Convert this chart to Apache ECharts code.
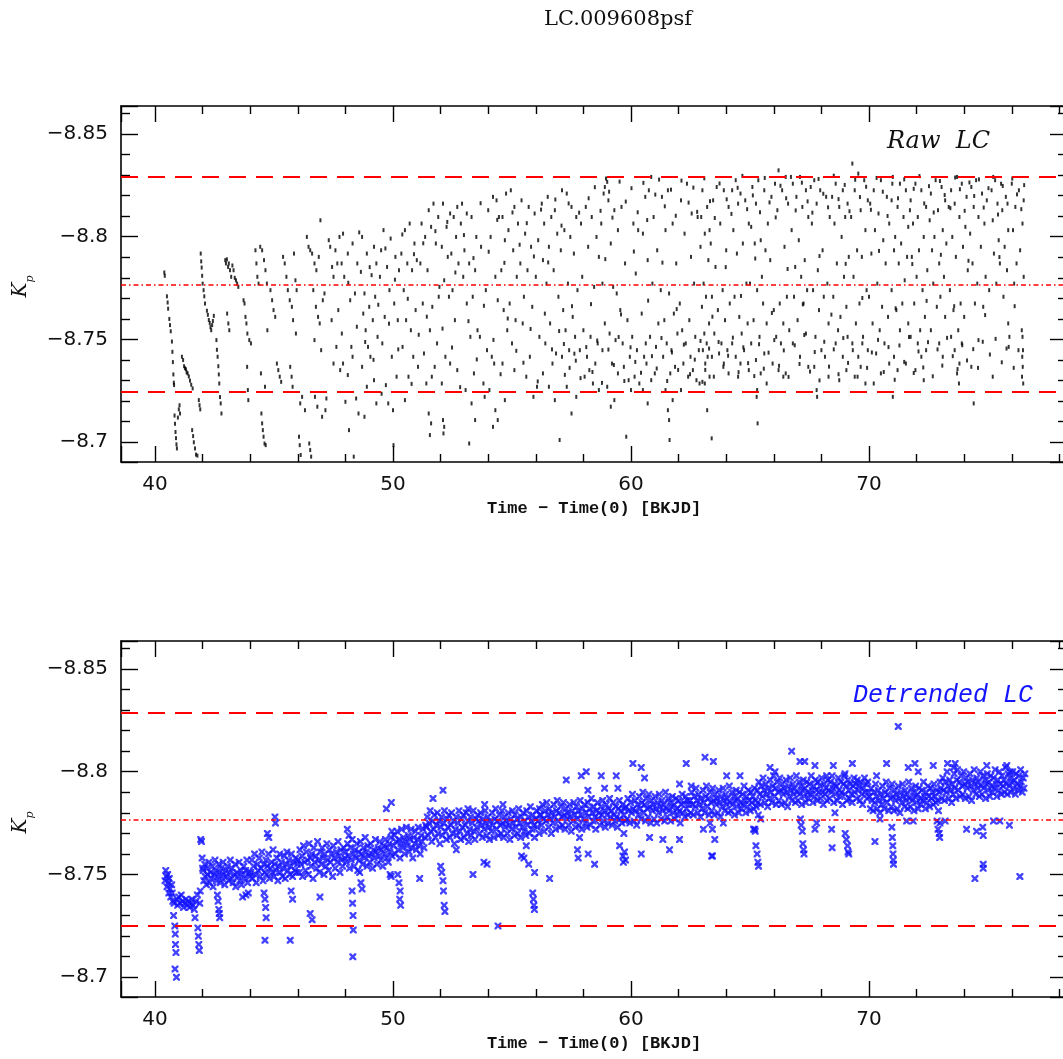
<!DOCTYPE html>
<html>
<head>
<meta charset="utf-8">
<title>LC.009608psf</title>
<script src="https://cdn.jsdelivr.net/npm/echarts@6/dist/echarts.min.js"></script>
<style>
  html, body { margin: 0; padding: 0; background: #ffffff; }
  #chart { width: 1063px; height: 1059px; }
</style>
</head>
<body>
<div id="chart"></div>
<script>
// ---- Light-curve samples: [time - time(0) (BKJD), Kp magnitude] ----

// Raw photometry, start of the run (steep pulsation streaks)
const rawStart = [
  [40.39,-8.7826],[40.41,-8.7810],[40.5,-8.771],[40.53,-8.768],[40.55,-8.765],[40.6,-8.760],[40.63,-8.757],[40.66,-8.754],
  [40.71,-8.749],[40.73,-8.744],[40.75,-8.739],[40.77,-8.733],[40.79,-8.729],[40.8,-8.7278],[40.82,-8.713],[40.84,-8.709],
  [40.86,-8.705],[40.88,-8.702],[40.9,-8.699],[40.92,-8.697],[40.96,-8.712],[41.0,-8.716],[41.03,-8.718],[41.05,-8.714],
  [41.13,-8.7416],[41.18,-8.740],[41.22,-8.737],[41.26,-8.736],[41.3,-8.7355],[41.33,-8.734],[41.37,-8.7335],[41.42,-8.732],
  [41.47,-8.730],[41.52,-8.728],[41.58,-8.7262],[41.56,-8.7059],[41.6,-8.703],[41.63,-8.700],[41.68,-8.697],[41.72,-8.694],
  [41.78,-8.6935],[41.84,-8.7205],[41.87,-8.718],[41.9,-8.716],[41.92,-8.7918],[41.94,-8.788],[41.96,-8.785],[41.98,-8.781],
  [42.0,-8.7772],[42.04,-8.774],[42.07,-8.771],[42.1,-8.7675],[42.18,-8.764],[42.22,-8.762],[42.26,-8.7595],[42.3,-8.758],
  [42.33,-8.756],[42.36,-8.7545],[42.4,-8.757],[42.43,-8.759],[42.47,-8.7615],[42.58,-8.7497],[42.6,-8.745],[42.63,-8.7416],
  [42.66,-8.737],[42.68,-8.733],[42.7,-8.7286],[42.73,-8.722],[42.76,-8.7189],[42.79,-8.714],[42.95,-8.7886],[42.98,-8.787],
  [43.02,-8.789],[43.07,-8.7853],[43.1,-8.787],[43.15,-8.7837],[43.2,-8.7805],[43.25,-8.786],[43.3,-8.7837],[43.35,-8.78],
  [43.4,-8.7788],[43.45,-8.7772],[43.5,-8.7756],[43.03,-8.7626],[43.08,-8.7578],[43.12,-8.7545],[43.72,-8.7691],[43.76,-8.7675],
  [43.8,-8.761],[43.84,-8.7578],[43.88,-8.7529],[43.96,-8.7497],[44.03,-8.7481],[43.87,-8.7367],[43.9,-8.7254],[43.92,-8.7205],
  [44.22,-8.7934],[44.26,-8.787],[44.3,-8.7805],[44.35,-8.7772],[44.42,-8.7951],[44.5,-8.7934],[44.58,-8.7886],[44.64,-8.7837],
  [44.7,-8.7772],[44.47,-8.714],[44.5,-8.7092],[44.53,-8.7059],[44.56,-8.7027],[44.6,-8.6994],[44.65,-8.6986],[44.45,-8.7335],
  [44.62,-8.727],[44.72,-8.7545],[44.85,-8.774],[44.92,-8.7691],[44.98,-8.7643],[45.05,-8.761],[45.12,-8.7383],[45.18,-8.7351],
  [45.24,-8.7319],[45.3,-8.7294],[45.38,-8.7902],[45.45,-8.787],[45.52,-8.7805],[45.58,-8.774],[45.66,-8.7691],[45.75,-8.7659],
  [45.84,-8.7918],[45.9,-8.7788],[45.95,-8.774],[45.8,-8.7594],[45.92,-8.7529],[45.68,-8.7367],[45.74,-8.7319],[45.78,-8.727],
  [46.05,-8.7027],[46.08,-8.6986],[46.12,-8.6938],[46.48,-8.6994],[46.52,-8.6962],[46.56,-8.693],[46.1,-8.7189],[46.18,-8.7221],
  [46.3,-8.7156],[46.38,-8.7999],[46.45,-8.7951],[46.52,-8.7934],[46.6,-8.7918],[46.7,-8.787],[46.78,-8.7837],[46.88,-8.7902],
  [46.95,-8.808],[46.65,-8.774],[46.76,-8.7659],[46.85,-8.761],[46.92,-8.7578],[47.05,-8.7691],[47.12,-8.7724],[46.7,-8.7497],
  [46.98,-8.7448],[46.72,-8.7221],[46.82,-8.7173],[47.02,-8.7124],[47.16,-8.7156],[47.2,-8.7213],[47.3,-8.7983],[47.36,-8.7951],
  [47.44,-8.7853],[47.5,-8.7805],[47.58,-8.7934],[47.66,-8.787],[47.75,-8.7999],[47.84,-8.787],[47.5,-8.7383],[47.62,-8.7464],
  [47.78,-8.7351],[47.42,-8.7594],[47.7,-8.7643]
];

// Raw photometry, days 47.8 - 55.3
const rawEarly = [
  [47.9,-8.8015],[48.3,-8.7967],[48.1,-8.7918],[48.5,-8.787],[47.95,-8.7805],[48.4,-8.7724],[48.2,-8.7691],[47.85,-8.7529],
  [48.25,-8.7464],[48.3,-8.7416],[47.9,-8.7383],[48.1,-8.7327],[48.45,-8.7213],[48.0,-8.7197],[48.55,-8.714],[48.15,-8.7059],
  [48.35,-8.693],[48.7,-8.7999],[49.2,-8.7951],[48.9,-8.7918],[49.3,-8.787],[48.65,-8.7829],[49.1,-8.7813],[48.8,-8.7724],
  [49.25,-8.7708],[49.0,-8.7659],[48.75,-8.7626],[49.15,-8.7594],[48.85,-8.7545],[49.35,-8.7513],[48.95,-8.7464],[49.05,-8.7416],
  [48.7,-8.7367],[49.2,-8.7302],[48.9,-8.727],[49.3,-8.7189],[48.8,-8.7124],[49.6,-8.8032],[49.9,-8.7991],[49.5,-8.7934],
  [50.1,-8.7902],[49.75,-8.7853],[50.25,-8.7837],[49.45,-8.7805],[49.85,-8.774],[50.05,-8.7675],[49.65,-8.761],[50.2,-8.7594],
  [49.55,-8.7481],[49.95,-8.7416],[50.15,-8.7319],[49.7,-8.7278],[49.8,-8.7189],[50.0,-8.7156],[50.02,-8.6986],[50.7,-8.8064],
  [50.5,-8.8032],[50.9,-8.7967],[50.35,-8.7918],[51.0,-8.7886],[50.6,-8.787],[50.8,-8.7837],[50.45,-8.774],[50.95,-8.7643],
  [50.55,-8.7594],[50.75,-8.7545],[50.4,-8.7464],[50.85,-8.7416],[51.05,-8.7367],[50.65,-8.7319],[50.5,-8.7205],[51.7,-8.8161],
  [51.5,-8.8129],[51.9,-8.8096],[51.2,-8.8064],[51.6,-8.8048],[51.35,-8.7999],[51.8,-8.7967],[51.15,-8.787],[51.45,-8.7837],
  [51.95,-8.7756],[51.25,-8.7675],[51.65,-8.7659],[51.55,-8.7545],[51.85,-8.7481],[51.3,-8.7432],[51.75,-8.7367],[51.4,-8.7286],
  [51.5,-8.714],[51.6,-8.7092],[51.55,-8.7035],[52.1,-8.8161],[52.7,-8.8145],[52.4,-8.8113],[52.55,-8.8096],[52.25,-8.8048],
  [52.65,-8.7999],[52.05,-8.7951],[52.45,-8.7918],[52.3,-8.7902],[52.75,-8.787],[52.15,-8.7788],[52.5,-8.774],[52.35,-8.7708],
  [52.6,-8.7594],[52.2,-8.7416],[52.4,-8.7383],[52.7,-8.7351],[52.05,-8.7286],[52.1,-8.7108],[52.15,-8.7075],[52.12,-8.7043],
  [52.9,-8.8161],[53.1,-8.8113],[53.3,-8.8096],[52.85,-8.8064],[53.5,-8.7999],[53.0,-8.7934],[53.2,-8.787],[53.45,-8.7837],
  [52.95,-8.7805],[53.35,-8.7708],[53.1,-8.7675],[53.55,-8.7545],[53.25,-8.7513],[53.4,-8.7335],[53.05,-8.7254],[53.3,-8.7189],
  [53.45,-8.7108],[53.2,-8.6994],[54.2,-8.8194],[54.35,-8.8177],[54.0,-8.8129],[54.45,-8.8096],[54.1,-8.7999],[53.7,-8.7951],
  [54.3,-8.7805],[53.9,-8.774],[54.4,-8.7691],[53.65,-8.7513],[53.95,-8.7448],[54.15,-8.7416],[54.25,-8.7383],[53.8,-8.7286],
  [54.05,-8.7254],[53.85,-8.7221],[54.3,-8.7156],[54.4,-8.7108],[54.2,-8.7075],[54.95,-8.8226],[54.75,-8.821],[55.1,-8.8145],
  [54.6,-8.8096],[55.25,-8.8064],[54.85,-8.8032],[54.7,-8.7983],[55.05,-8.7934],[54.55,-8.7837],[55.2,-8.7805],[54.9,-8.7675],
  [54.65,-8.7643],[55.15,-8.7594],[54.8,-8.7545],[55.0,-8.7481],[54.6,-8.7383],[55.1,-8.7351],[54.7,-8.7205]
];

// Raw photometry, days 55.3 - 62.9
const rawMiddle = [
  [55.4,-8.8177],[55.7,-8.8145],[55.95,-8.8113],[55.55,-8.8015],[56.1,-8.7983],[55.8,-8.7951],[55.35,-8.787],[55.65,-8.7837],
  [56.0,-8.7805],[55.5,-8.7708],[55.85,-8.7659],[55.45,-8.7578],[56.15,-8.7513],[55.75,-8.7416],[55.6,-8.7319],[56.05,-8.727],
  [55.9,-8.7221],[56.5,-8.8194],[56.25,-8.8161],[56.8,-8.8129],[56.65,-8.8096],[56.35,-8.8064],[56.9,-8.8015],[56.55,-8.7951],
  [56.3,-8.7886],[56.75,-8.7837],[56.45,-8.7772],[56.95,-8.7708],[56.6,-8.7578],[56.4,-8.7481],[56.85,-8.7432],[56.7,-8.7383],
  [56.3,-8.7335],[56.55,-8.727],[56.8,-8.7205],[57.1,-8.8226],[57.3,-8.821],[57.5,-8.8145],[57.7,-8.8096],[57.2,-8.8032],
  [57.45,-8.7999],[57.05,-8.7934],[57.6,-8.7918],[57.35,-8.7772],[57.75,-8.774],[57.15,-8.7643],[57.55,-8.761],[57.25,-8.7545],
  [57.65,-8.7513],[57.4,-8.7448],[57.1,-8.7416],[57.3,-8.727],[57.7,-8.7221],[57.5,-8.714],[57.0,-8.7011],[58.1,-8.8145],
  [58.35,-8.8096],[57.9,-8.8064],[58.55,-8.7999],[58.2,-8.7951],[58.65,-8.7902],[57.95,-8.7805],[58.45,-8.7756],[58.0,-8.7545],
  [58.3,-8.7513],[58.6,-8.7481],[57.85,-8.7448],[58.15,-8.7416],[58.5,-8.7383],[58.25,-8.7351],[58.05,-8.7319],[58.4,-8.7286],
  [58.65,-8.7254],[58.95,-8.8283],[59.0,-8.8267],[58.9,-8.8242],[58.85,-8.821],[59.05,-8.8177],[59.3,-8.8129],[58.75,-8.8064],
  [59.45,-8.8032],[59.15,-8.7967],[58.8,-8.7772],[59.25,-8.7756],[59.4,-8.7724],[58.9,-8.7578],[59.1,-8.7529],[59.35,-8.7497],
  [58.8,-8.7448],[59.2,-8.7383],[59.45,-8.7335],[59.0,-8.727],[59.3,-8.7205],[59.15,-8.7173],[59.6,-8.8145],[60.1,-8.8064],
  [60.3,-8.8032],[59.75,-8.787],[60.2,-8.7821],[59.55,-8.7643],[59.85,-8.7594],[60.05,-8.7513],[59.65,-8.7481],[60.25,-8.7448],
  [59.95,-8.7416],[59.7,-8.7367],[60.15,-8.7319],[59.9,-8.7302],[60.35,-8.7286],[60.0,-8.7254],[59.8,-8.7027],[60.85,-8.8291],
  [60.75,-8.8226],[60.6,-8.8194],[60.95,-8.8096],[60.5,-8.8015],[61.1,-8.7934],[60.7,-8.7886],[60.9,-8.7772],[60.45,-8.7626],
  [61.15,-8.7578],[60.8,-8.7513],[61.05,-8.7464],[60.55,-8.7416],[60.65,-8.7383],[61.0,-8.7335],[60.85,-8.7302],[60.5,-8.7254],
  [60.7,-8.7189],[61.55,-8.8226],[61.3,-8.8194],[61.75,-8.8064],[61.45,-8.8032],[61.9,-8.787],[61.25,-8.774],[61.6,-8.7724],
  [61.8,-8.7626],[61.4,-8.7594],[61.95,-8.7529],[61.5,-8.7481],[61.7,-8.7448],[61.35,-8.7416],[61.85,-8.7367],[61.65,-8.7335],
  [61.45,-8.7254],[61.75,-8.7205],[61.55,-8.7156],[61.6,-8.7108],[61.62,-8.7011],[62.35,-8.8258],[62.1,-8.8177],[62.55,-8.8113],
  [62.8,-8.8096],[62.25,-8.8015],[62.65,-8.7772],[62.05,-8.7675],[62.45,-8.7594],[62.15,-8.7545],[62.7,-8.7513],[62.3,-8.7481],
  [62.85,-8.7448],[62.5,-8.7416],[62.2,-8.7383],[62.6,-8.7351],[62.4,-8.7319],[62.75,-8.7302],[62.88,-8.7286],[62.1,-8.7254]
];

// Raw photometry, days 62.9 - 69.2
const rawLate = [
  [63.0,-8.8226],[63.2,-8.8145],[62.95,-8.8096],[63.3,-8.8032],[63.1,-8.8015],[62.92,-8.7951],[63.25,-8.7886],[63.05,-8.7772],
  [63.15,-8.7708],[62.98,-8.7659],[63.28,-8.7578],[63.08,-8.7529],[63.18,-8.7481],[63.02,-8.7448],[63.22,-8.7416],[63.12,-8.7383],
  [63.3,-8.7319],[63.0,-8.7294],[63.1,-8.7286],[63.2,-8.7156],[63.39,-8.7019],[63.6,-8.8242],[63.9,-8.8226],[63.45,-8.8177],
  [64.1,-8.8145],[63.75,-8.8064],[63.35,-8.7967],[64.0,-8.7934],[63.55,-8.7853],[63.85,-8.774],[63.4,-8.7708],[64.15,-8.7675],
  [63.65,-8.7643],[63.95,-8.7594],[63.5,-8.7529],[63.8,-8.7481],[64.05,-8.7448],[63.7,-8.7432],[63.4,-8.7416],[63.9,-8.7383],
  [64.1,-8.7335],[64.4,-8.8275],[64.25,-8.8226],[64.6,-8.821],[64.8,-8.8177],[64.5,-8.8161],[64.95,-8.8064],[64.3,-8.8032],
  [64.7,-8.7967],[64.45,-8.7918],[64.85,-8.7772],[64.35,-8.7708],[64.55,-8.761],[64.9,-8.7578],[64.65,-8.7529],[64.25,-8.7481],
  [64.75,-8.7448],[64.4,-8.7416],[64.6,-8.7383],[64.95,-8.7351],[64.5,-8.7319],[65.35,-8.8275],[65.1,-8.8242],[65.6,-8.8226],
  [65.25,-8.8161],[65.75,-8.8064],[65.05,-8.8048],[65.45,-8.7983],[65.2,-8.7967],[65.65,-8.7934],[65.5,-8.7805],[65.0,-8.7772],
  [65.3,-8.774],[65.55,-8.7675],[65.15,-8.7594],[65.7,-8.7578],[65.4,-8.7513],[65.05,-8.7481],[65.6,-8.7432],[65.25,-8.74],
  [65.45,-8.7335],[65.7,-8.7286],[65.3,-8.7254],[65.28,-8.7221],[65.32,-8.7092],[66.2,-8.8323],[66.5,-8.8291],[66.05,-8.8258],
  [66.35,-8.8226],[65.9,-8.8194],[66.6,-8.8161],[66.15,-8.8129],[66.45,-8.7951],[65.85,-8.7886],[66.55,-8.7708],[66.25,-8.7675],
  [66.0,-8.7643],[66.4,-8.7578],[66.65,-8.7545],[66.1,-8.7513],[66.3,-8.7481],[65.95,-8.7383],[66.2,-8.7351],[66.5,-8.7335],
  [66.4,-8.7319],[67.1,-8.8291],[66.8,-8.8258],[67.35,-8.8226],[66.95,-8.8194],[67.2,-8.8145],[67.45,-8.8096],[66.75,-8.8032],
  [67.05,-8.7983],[67.3,-8.7886],[66.9,-8.7853],[67.15,-8.7805],[67.4,-8.774],[66.85,-8.7708],[67.25,-8.7675],[67.0,-8.7594],
  [67.35,-8.7529],[66.8,-8.7481],[67.1,-8.7416],[67.45,-8.7367],[67.7,-8.8275],[67.55,-8.8242],[67.95,-8.8226],[68.2,-8.8194],
  [67.8,-8.8161],[68.35,-8.8096],[67.6,-8.8064],[68.05,-8.7934],[67.85,-8.7837],[68.25,-8.7772],[67.65,-8.774],[68.1,-8.7708],
  [67.9,-8.7643],[68.3,-8.7578],[67.75,-8.7513],[68.0,-8.7448],[68.15,-8.7416],[67.7,-8.7367],[68.3,-8.7319],[67.8,-8.7254],
  [67.82,-8.7221],[68.6,-8.8258],[68.9,-8.8226],[68.45,-8.8194],[69.1,-8.8161],[68.75,-8.8145],[69.0,-8.8096],[68.55,-8.8064],
  [68.85,-8.7999],[69.15,-8.7902],[68.65,-8.787],[68.95,-8.7805],[68.5,-8.7708],[69.05,-8.7659],[68.8,-8.761],[68.7,-8.7545],
  [69.1,-8.7513],[68.6,-8.7481],[68.9,-8.7416],[69.05,-8.7351],[68.75,-8.7302]
];

// Raw photometry, days 69.2 - 76.6
const rawEnd = [
  [69.3,-8.8356],[69.55,-8.8307],[69.8,-8.8275],[69.4,-8.8226],[69.95,-8.8177],[69.65,-8.8129],[69.25,-8.8096],[69.85,-8.8032],
  [69.5,-8.7934],[69.7,-8.7902],[69.35,-8.7805],[69.9,-8.774],[69.6,-8.7675],[69.45,-8.7578],[69.75,-8.7513],[69.3,-8.7481],
  [69.95,-8.7448],[69.55,-8.7416],[69.65,-8.7367],[69.4,-8.7319],[69.85,-8.7286],[70.5,-8.8275],[70.2,-8.8226],[70.75,-8.8194],
  [70.05,-8.8161],[70.4,-8.8113],[70.85,-8.8064],[70.25,-8.8032],[70.6,-8.7983],[70.1,-8.7918],[70.7,-8.787],[70.35,-8.7772],
  [70.0,-8.7708],[70.55,-8.7659],[70.8,-8.761],[70.15,-8.7578],[70.45,-8.7545],[70.65,-8.7481],[70.3,-8.7432],[70.85,-8.7383],
  [70.5,-8.7335],[70.2,-8.7286],[71.0,-8.8291],[71.3,-8.8258],[71.55,-8.8226],[70.95,-8.8177],[71.2,-8.8145],[71.45,-8.8096],
  [71.65,-8.8048],[71.1,-8.7999],[71.35,-8.7967],[71.05,-8.7934],[71.6,-8.7902],[71.25,-8.787],[71.5,-8.7788],[70.95,-8.774],
  [71.4,-8.7675],[71.15,-8.7643],[71.65,-8.7578],[71.3,-8.7545],[71.05,-8.7416],[71.55,-8.7383],[71.2,-8.7351],[71.0,-8.7221],
  [71.95,-8.8258],[72.2,-8.8226],[71.75,-8.8177],[72.4,-8.8145],[72.05,-8.8096],[71.85,-8.8064],[72.3,-8.7999],[72.1,-8.7934],
  [71.8,-8.7902],[72.45,-8.7837],[72.0,-8.7805],[72.25,-8.774],[71.9,-8.7675],[72.35,-8.761],[72.15,-8.7545],[71.75,-8.7513],
  [72.05,-8.7481],[72.4,-8.7448],[72.2,-8.7416],[71.95,-8.7351],[72.3,-8.7302],[72.8,-8.8275],[73.05,-8.8242],[72.6,-8.821],
  [73.2,-8.8177],[72.9,-8.8129],[72.55,-8.808],[73.1,-8.8032],[72.75,-8.7999],[73.25,-8.7967],[72.65,-8.7934],[72.95,-8.787],
  [73.15,-8.7805],[72.7,-8.7772],[73.0,-8.7708],[72.85,-8.7659],[73.2,-8.761],[72.6,-8.7545],[72.95,-8.7481],[73.1,-8.7416],
  [73.7,-8.8291],[73.9,-8.8258],[73.45,-8.8226],[74.1,-8.8194],[73.6,-8.8161],[73.35,-8.8145],[73.8,-8.8096],[74.05,-8.8048],
  [73.5,-8.7999],[73.95,-8.7951],[73.65,-8.7902],[74.15,-8.7837],[73.4,-8.774],[73.85,-8.7675],[73.55,-8.7643],[74.0,-8.761],
  [73.75,-8.7545],[73.45,-8.7513],[73.9,-8.7481],[73.6,-8.7448],[73.8,-8.7383],[73.7,-8.7335],[73.78,-8.7286],[74.5,-8.8275],
  [74.3,-8.8242],[74.75,-8.821],[74.95,-8.8177],[74.4,-8.8145],[74.6,-8.8096],[74.85,-8.8064],[74.25,-8.8015],[74.7,-8.7951],
  [74.35,-8.787],[74.9,-8.7805],[74.55,-8.7772],[75.05,-8.774],[74.45,-8.7675],[74.8,-8.7659],[74.6,-8.7497],[74.3,-8.7367],
  [74.4,-8.7189],[75.3,-8.8275],[75.55,-8.8258],[75.15,-8.8226],[75.75,-8.8194],[75.4,-8.8161],[75.6,-8.8129],[75.2,-8.808],
  [75.85,-8.8032],[75.45,-8.7983],[75.7,-8.7951],[75.25,-8.7918],[75.5,-8.787],[75.8,-8.7837],[75.35,-8.7772],[75.65,-8.7708],
  [75.85,-8.7578],[75.9,-8.7513],[75.87,-8.7464],[75.2,-8.7319],[76.0,-8.8258],[76.3,-8.8226],[76.5,-8.8177],[76.15,-8.8145],
  [76.45,-8.8064],[76.05,-8.8032],[76.35,-8.7934],[76.2,-8.787],[76.5,-8.7805],[76.1,-8.7772],[76.42,-8.7545],[76.45,-8.7513],
  [76.47,-8.7448],[76.44,-8.7416],[76.46,-8.7367],[76.43,-8.7319],[76.48,-8.7286]
];

// Raw photometry, additional samples (days 48 - 76.5)
const rawFill = [
  [48.12,-8.7776],[48.48,-8.7562],[48.58,-8.8021],[48.83,-8.7488],[49.02,-8.7852],[49.18,-8.7401],[49.38,-8.7669],[49.52,-8.7236],
  [49.68,-8.7943],[49.83,-8.7577],[50.08,-8.7791],[50.22,-8.7452],[50.39,-8.8011],[50.62,-8.7698],[50.78,-8.7284],[50.88,-8.7915],
  [51.08,-8.7523],[51.27,-8.7968],[51.42,-8.7611],[51.63,-8.7319],[51.78,-8.8027],[51.92,-8.7708],[52.08,-8.7553],[52.28,-8.8072],
  [52.48,-8.7461],[52.62,-8.7826],[52.82,-8.7268],[52.98,-8.8008],[53.17,-8.7589],[53.38,-8.7896],[53.52,-8.7403],[53.68,-8.8163],
  [53.82,-8.7664],[54.02,-8.7927],[54.22,-8.7498],[54.38,-8.8082],[54.52,-8.7331],[54.68,-8.7873],[54.82,-8.7602],[55.02,-8.8118],
  [55.18,-8.7445],[55.32,-8.7961],[55.48,-8.7387],[55.62,-8.8066],[55.78,-8.7551],[55.92,-8.7904],[56.08,-8.7296],[56.22,-8.8132],
  [56.38,-8.7626],[56.52,-8.7875],[56.68,-8.7452],[56.82,-8.8181],[56.98,-8.7541],[57.08,-8.8054],[57.22,-8.7328],[57.38,-8.8162],
  [57.52,-8.7662],[57.68,-8.7397],[57.82,-8.8117],
  [58.22,-8.8187],[58.48,-8.8241],[58.72,-8.8126],[59.08,-8.8219],[59.22,-8.8093],[59.52,-8.8268],[59.78,-8.8171],[60.02,-8.8236],
  [60.28,-8.8119],[60.52,-8.8262],[60.68,-8.8081],[61.02,-8.8205],[61.18,-8.8278],[61.42,-8.8148],[61.68,-8.8229],[61.88,-8.8102],
  [62.12,-8.8273],[62.42,-8.8166],[62.62,-8.8239],[62.78,-8.8121],[63.08,-8.8284],[63.32,-8.8173],[63.52,-8.8091],[63.72,-8.8259],
  [64.02,-8.8182],[64.22,-8.8111],[64.48,-8.8238],[64.68,-8.8296],[64.88,-8.8134],[65.12,-8.8201],[65.42,-8.8119],[65.62,-8.8286],
  [65.82,-8.8167],[66.08,-8.8094],[66.28,-8.8248],[66.52,-8.8187],[66.72,-8.8291],[66.92,-8.8128],[67.18,-8.8263],[67.42,-8.8172],
  [67.62,-8.8117],[67.88,-8.8281],[68.08,-8.8209],[68.28,-8.8143],[68.52,-8.8297],[68.72,-8.8183],[68.98,-8.8252],[69.18,-8.8124],
  [69.42,-8.8277],[69.62,-8.8193],[69.88,-8.8243],[70.08,-8.8131],[70.32,-8.8286],[70.58,-8.8219],[70.78,-8.8101],[70.98,-8.8258],
  [71.22,-8.8187],[71.48,-8.8279],[71.72,-8.8129],[71.88,-8.8233],[72.12,-8.8295],[72.32,-8.8162],[72.52,-8.8246],[72.72,-8.8118],
  [72.98,-8.8271],[73.18,-8.8203],[73.42,-8.8139],[73.62,-8.8288],[73.82,-8.8231],[74.02,-8.8126],[74.22,-8.8264],[74.42,-8.8198],
  [74.62,-8.8279],[74.82,-8.8142],[75.02,-8.8236],[75.22,-8.8291],[75.42,-8.8108],[75.62,-8.8247],[75.82,-8.8161],[76.02,-8.8283],
  [76.22,-8.8206],[76.4,-8.8134],[76.52,-8.8251],
  [57.18,-8.7478],[57.42,-8.7362],[57.62,-8.7431],[57.88,-8.7312],[58.12,-8.7463],[58.38,-8.7342],[58.58,-8.7495],[58.78,-8.7289],
  [59.05,-8.7451],[59.28,-8.7376],[59.48,-8.7512],[59.72,-8.7298],[59.98,-8.7462],[60.18,-8.7391],[60.42,-8.7338],[60.62,-8.7481],
  [60.88,-8.7419],[61.08,-8.7359],[61.28,-8.7507],[61.52,-8.7298],[61.72,-8.7437],[61.98,-8.7352],[62.22,-8.7475],[62.48,-8.7331],
  [62.68,-8.7402],[62.92,-8.7493],[63.12,-8.7352],[63.28,-8.7456],[63.48,-8.7319],[63.68,-8.7488],[63.88,-8.7367],[64.08,-8.7421],
  [64.28,-8.7509],[64.52,-8.7341],[64.72,-8.7462],[64.92,-8.7385],[65.18,-8.7322],[65.38,-8.7477],[65.58,-8.7358],[65.78,-8.7436],
  [66.02,-8.7497],[66.22,-8.7372],[66.42,-8.7447],[66.62,-8.7318],[66.88,-8.7472],[67.08,-8.7381],[67.28,-8.7522],[67.52,-8.7344],
  [67.72,-8.7439],[67.92,-8.7301],[68.12,-8.7489],[68.32,-8.7368],[68.52,-8.7452],[68.72,-8.7331],[68.92,-8.7507],[69.12,-8.7386],
  [69.32,-8.7448],[69.52,-8.7319],[69.72,-8.7481],[69.92,-8.7362],[70.12,-8.7437],[70.38,-8.7498],[70.62,-8.7342],[70.82,-8.7463],
  [71.08,-8.7304],[71.28,-8.7471],[71.48,-8.7391],[71.68,-8.7512],[71.88,-8.7337],[72.08,-8.7442],[72.28,-8.7364],[72.48,-8.7487],
  [72.68,-8.7321],[72.88,-8.7452],[73.08,-8.7373],[73.28,-8.7508],[73.52,-8.7419],[73.72,-8.7356],[73.92,-8.7472],[74.12,-8.7398],
  [74.38,-8.7453],[74.58,-8.7362],[74.78,-8.7489],[75.08,-8.7427],[75.32,-8.7503],[75.58,-8.7389],[75.78,-8.7456],[76.08,-8.7362],
  [76.28,-8.7448],
  [58.32,-8.7672],[58.92,-8.7891],[59.58,-8.7622],[60.12,-8.7928],[60.72,-8.7689],[61.32,-8.7874],[61.92,-8.7648],[62.52,-8.7902],
  [63.42,-8.7611],[63.98,-8.7852],[64.62,-8.7712],[65.22,-8.7894],[65.92,-8.7629],[66.58,-8.7843],[67.22,-8.7671],[67.92,-8.7906],
  [68.42,-8.7621],[69.02,-8.7868],[69.72,-8.7702],[70.42,-8.7931],[71.12,-8.7652],[71.82,-8.7867],[72.42,-8.7688],[73.02,-8.7912],
  [73.58,-8.7662],[74.18,-8.7883],[74.88,-8.7619],[75.48,-8.7901],[76.12,-8.7662]
];

// Detrended photometry, days 40.4 - 46
const detEarly = [
  [40.42,-8.747],[40.45,-8.752],[40.48,-8.749],[40.5,-8.744],[40.53,-8.750],[40.56,-8.746],[40.58,-8.741],[40.6,-8.748],
  [40.63,-8.743],[40.66,-8.739],[40.7,-8.745],[40.72,-8.741],[40.75,-8.737],[40.78,-8.730],[40.8,-8.736],[40.83,-8.725],
  [40.85,-8.721],[40.86,-8.716],[40.88,-8.712],[40.84,-8.704],[40.9,-8.700],[40.92,-8.738],[40.95,-8.735],[41.0,-8.739],
  [41.05,-8.736],[41.1,-8.740],[41.15,-8.737],[41.2,-8.734],[41.25,-8.736],[41.3,-8.738],[41.35,-8.735],[41.4,-8.737],
  [41.45,-8.734],[41.5,-8.736],[41.55,-8.738],[41.6,-8.735],[41.65,-8.733],[41.68,-8.729],[41.72,-8.737],[41.78,-8.740],
  [41.8,-8.724],[41.82,-8.720],[41.84,-8.716],[41.86,-8.713],[41.88,-8.736],[41.9,-8.742],[41.92,-8.767],[41.95,-8.766],
  [41.98,-8.758],[42.0,-8.753],
  [42.02,-8.752],[42.05,-8.747],[42.09,-8.755],[42.11,-8.749],[42.16,-8.745],[42.19,-8.753],[42.21,-8.750],[42.27,-8.756],
  [42.29,-8.746],[42.33,-8.751],[42.36,-8.748],[42.41,-8.754],[42.44,-8.744],[42.48,-8.750],[42.52,-8.757],[42.55,-8.752],
  [42.57,-8.747],[42.63,-8.749],[42.67,-8.755],[42.71,-8.751],[42.74,-8.746],[42.78,-8.753],[42.83,-8.748],[42.86,-8.756],
  [42.88,-8.750],[42.93,-8.745],[42.97,-8.752],[43.01,-8.749],[43.04,-8.754],[43.09,-8.747],[43.13,-8.751],[43.16,-8.757],
  [43.22,-8.748],[43.24,-8.753],[43.28,-8.746],[43.33,-8.750],[43.37,-8.755],[43.39,-8.744],[43.44,-8.751],[43.48,-8.749],
  [43.53,-8.756],[43.56,-8.747],[43.61,-8.752],[43.63,-8.745],[43.69,-8.750],[43.73,-8.754],[43.77,-8.748],[43.81,-8.752],
  [43.86,-8.757],[43.89,-8.746],[43.94,-8.751],[43.98,-8.749],
  [42.62,-8.740],[42.65,-8.737],[42.68,-8.733],[42.7,-8.731],[42.72,-8.729],[43.68,-8.739],[43.82,-8.740],[43.92,-8.741],
  [44.03,-8.751],[44.07,-8.757],[44.1,-8.748],[44.14,-8.754],[44.18,-8.760],[44.22,-8.750],[44.25,-8.746],[44.31,-8.755],
  [44.33,-8.752],[44.38,-8.758],[44.42,-8.749],[44.46,-8.753],[44.49,-8.761],[44.54,-8.747],[44.57,-8.755],[44.61,-8.751],
  [44.66,-8.757],[44.69,-8.750],[44.73,-8.754],[44.77,-8.760],[44.81,-8.748],[44.84,-8.753],[44.89,-8.756],[44.93,-8.751],
  [44.96,-8.762],[45.01,-8.749],[45.03,-8.755],[45.08,-8.752],[45.12,-8.758],[45.16,-8.747],[45.19,-8.754],[45.24,-8.760],
  [45.27,-8.751],[45.31,-8.756],[45.36,-8.749],[45.39,-8.753],[45.43,-8.759],[45.47,-8.748],[45.51,-8.755],[45.54,-8.761],
  [45.58,-8.752],[45.62,-8.757],[45.67,-8.750],[45.71,-8.754],[45.73,-8.760],[45.78,-8.749],[45.82,-8.756],[45.87,-8.752],
  [45.91,-8.758],[45.94,-8.751],[45.98,-8.755],
  [44.72,-8.770],[44.78,-8.768],[45.04,-8.778],[45.06,-8.775],[44.58,-8.741],[44.62,-8.738],[44.65,-8.734],[44.67,-8.729],
  [44.62,-8.718],[45.68,-8.718],[45.72,-8.742],[45.78,-8.738]
];

// Detrended photometry, days 46 - 53.6
const detMidEarly = [
  [46.02,-8.757],[46.06,-8.751],[46.09,-8.762],[46.13,-8.755],[46.17,-8.759],[46.2,-8.749],[46.24,-8.764],[46.29,-8.756],
  [46.32,-8.752],[46.36,-8.761],[46.41,-8.757],[46.44,-8.750],[46.47,-8.765],[46.53,-8.758],[46.56,-8.754],[46.59,-8.760],
  [46.64,-8.748],[46.67,-8.763],[46.71,-8.756],[46.76,-8.759],[46.79,-8.753],[46.83,-8.766],[46.87,-8.757],[46.9,-8.751],
  [46.94,-8.761],[46.99,-8.755],[47.02,-8.763],[47.06,-8.758],[47.1,-8.750],[47.13,-8.760],[47.18,-8.754],[47.22,-8.765],
  [47.26,-8.757],[47.29,-8.752],[47.33,-8.762],[47.37,-8.756],[47.41,-8.760],[47.46,-8.749],[47.49,-8.764],[47.53,-8.758],
  [47.57,-8.753],[47.62,-8.761],[47.65,-8.756],[47.69,-8.766],[47.73,-8.759],[47.77,-8.751],[47.81,-8.762],[47.84,-8.757],
  [47.88,-8.754],[47.93,-8.763],[47.97,-8.758],
  [48.01,-8.761],[48.04,-8.756],[48.09,-8.765],[48.12,-8.759],[48.17,-8.753],[48.21,-8.763],[48.24,-8.757],[48.28,-8.767],
  [48.33,-8.760],[48.37,-8.754],[48.41,-8.762],[48.44,-8.758],[48.48,-8.765],[48.52,-8.752],[48.56,-8.761],[48.59,-8.757],
  [48.63,-8.766],[48.68,-8.760],[48.72,-8.755],[48.76,-8.763],[48.79,-8.758],[48.83,-8.768],[48.87,-8.761],[48.91,-8.754],
  [48.94,-8.764],[48.98,-8.759],[49.03,-8.756],[49.06,-8.765],[49.1,-8.760],[49.14,-8.753],[49.18,-8.762],[49.21,-8.758],
  [49.26,-8.767],[49.29,-8.761],[49.33,-8.755],[49.38,-8.763],[49.41,-8.759],[49.45,-8.766],[49.49,-8.757],[49.52,-8.762],
  [49.57,-8.754],[49.61,-8.764],[49.64,-8.760],[49.68,-8.767],[49.73,-8.758],[49.76,-8.763],[49.8,-8.756],[49.84,-8.765],
  [49.87,-8.761],[49.91,-8.768],[49.96,-8.759],
  [50.02,-8.764],[50.06,-8.769],[50.09,-8.760],[50.13,-8.766],[50.17,-8.771],[50.21,-8.762],[50.26,-8.767],[50.29,-8.758],
  [50.33,-8.765],[50.36,-8.772],[50.41,-8.763],[50.44,-8.768],[50.48,-8.760],[50.53,-8.766],[50.56,-8.773],[50.6,-8.764],
  [50.64,-8.769],[50.68,-8.761],[50.71,-8.767],[50.76,-8.772],[50.79,-8.763],[50.83,-8.758],[50.87,-8.768],[50.91,-8.765],
  [50.94,-8.771],[50.98,-8.762],[51.03,-8.767],[51.06,-8.773],[51.1,-8.764],[51.14,-8.760],[51.18,-8.769],[51.22,-8.766],
  [51.26,-8.772],[51.3,-8.763],[51.34,-8.768],[51.37,-8.774],
  [51.41,-8.773],[51.44,-8.778],[51.48,-8.769],[51.52,-8.775],[51.56,-8.781],[51.59,-8.771],[51.63,-8.766],[51.67,-8.776],
  [51.71,-8.772],[51.74,-8.779],[51.78,-8.768],[51.82,-8.774],[51.86,-8.780],[51.89,-8.770],[51.93,-8.776],[51.97,-8.765],
  [52.01,-8.773],[52.04,-8.778],[52.08,-8.769],[52.13,-8.775],[52.16,-8.781],[52.2,-8.771],[52.24,-8.767],[52.27,-8.777],
  [52.31,-8.773],[52.35,-8.779],[52.39,-8.768],[52.43,-8.774],[52.46,-8.780],[52.5,-8.770],[52.54,-8.776],[52.58,-8.765],
  [52.62,-8.772],[52.66,-8.778],[52.69,-8.769],[52.73,-8.775],[52.77,-8.781],[52.81,-8.771],[52.84,-8.767],[52.88,-8.777],
  [52.92,-8.773],[52.96,-8.779],[52.99,-8.768],[53.03,-8.774],[53.07,-8.780],[53.11,-8.770],[53.14,-8.776],[53.18,-8.766],
  [53.22,-8.772],[53.26,-8.778],[53.29,-8.769],[53.33,-8.775],[53.37,-8.781],[53.41,-8.771],[53.44,-8.767],[53.48,-8.777],
  [53.52,-8.773],[53.56,-8.779],
  [46.52,-8.731],[46.6,-8.728],[46.93,-8.739],[48.08,-8.772],[48.15,-8.769],[48.28,-8.742],[48.3,-8.736],[48.32,-8.730],
  [48.31,-8.710],[48.33,-8.723],[48.6,-8.751],[48.65,-8.746],[48.7,-8.743],[49.72,-8.782],[49.93,-8.785],[49.88,-8.750],
  [49.92,-8.749],[49.95,-8.771],[50.2,-8.750],[50.25,-8.746],[50.3,-8.742],[50.28,-8.738],[50.32,-8.735],[51.12,-8.748],
  [51.68,-8.787],[52.1,-8.791],[52.0,-8.754],[52.05,-8.751],[52.1,-8.747],[52.12,-8.742],[52.15,-8.735],[52.18,-8.732],
  [52.66,-8.762],[53.36,-8.750],[53.15,-8.782]
];

// Detrended photometry, days 53.6 - 62.5
const detMidLate = [
  [53.61,-8.776],[53.64,-8.770],[53.68,-8.780],[53.72,-8.774],[53.75,-8.768],[53.79,-8.777],[53.83,-8.772],[53.87,-8.781],
  [53.9,-8.775],[53.94,-8.769],[53.98,-8.778],[54.02,-8.773],[54.05,-8.767],[54.09,-8.776],[54.13,-8.771],[54.17,-8.780],
  [54.2,-8.774],[54.24,-8.768],[54.28,-8.777],[54.31,-8.782],[54.35,-8.772],[54.39,-8.776],[54.43,-8.769],[54.47,-8.779],
  [54.5,-8.774],[54.54,-8.770],[54.58,-8.781],[54.61,-8.775],[54.65,-8.768],[54.69,-8.778],[54.72,-8.773],[54.76,-8.776],
  [54.8,-8.770],[54.84,-8.780],[54.87,-8.774],[54.91,-8.767],[54.95,-8.777],[54.98,-8.772],[55.02,-8.781],[55.06,-8.775],
  [55.1,-8.769],[55.13,-8.779],[55.17,-8.773],[55.21,-8.777],[55.24,-8.770],[55.28,-8.782],[55.32,-8.775],[55.36,-8.768],
  [55.39,-8.778],[55.43,-8.773],[55.47,-8.780],[55.51,-8.771],[55.54,-8.776],[55.58,-8.769],[55.62,-8.781],[55.65,-8.774],
  [55.69,-8.778],[55.73,-8.770],[55.77,-8.783],[55.8,-8.776],[55.84,-8.772],[55.88,-8.779],[55.91,-8.774],[55.95,-8.768],
  [55.99,-8.777],[56.03,-8.781],[56.06,-8.773],[56.1,-8.776],[56.14,-8.770],[56.17,-8.779],
  [56.21,-8.779],[56.24,-8.774],[56.28,-8.784],[56.32,-8.777],[56.35,-8.771],[56.39,-8.781],[56.43,-8.776],[56.46,-8.785],
  [56.5,-8.779],[56.54,-8.773],[56.57,-8.782],[56.61,-8.777],[56.65,-8.770],[56.68,-8.780],[56.72,-8.775],[56.76,-8.784],
  [56.79,-8.778],[56.83,-8.772],[56.87,-8.781],[56.9,-8.786],[56.94,-8.776],[56.98,-8.780],[57.01,-8.773],[57.05,-8.783],
  [57.09,-8.778],[57.12,-8.774],[57.16,-8.785],[57.2,-8.779],[57.23,-8.772],[57.27,-8.782],[57.31,-8.777],[57.34,-8.780],
  [57.38,-8.774],[57.42,-8.784],[57.45,-8.778],[57.49,-8.771],[57.53,-8.781],[57.56,-8.776],[57.6,-8.785],[57.64,-8.779],
  [57.67,-8.773],[57.71,-8.783],[57.75,-8.777],[57.78,-8.781],[57.82,-8.774],[57.86,-8.786],[57.89,-8.779],[57.93,-8.772],
  [57.97,-8.782],[58.0,-8.777],[58.04,-8.784],[58.08,-8.775],[58.11,-8.780],[58.15,-8.773],[58.19,-8.785],[58.22,-8.778],
  [58.26,-8.782],[58.3,-8.774],[58.33,-8.787],[58.37,-8.780],[58.41,-8.776],[58.44,-8.783],[58.48,-8.778],[58.52,-8.772],
  [58.55,-8.781],[58.59,-8.785],[58.63,-8.777],[58.66,-8.780],[58.7,-8.774],[58.74,-8.783],[58.77,-8.779],[58.81,-8.786],
  [58.85,-8.776],[58.88,-8.781],[58.92,-8.773],[58.96,-8.784],[58.99,-8.779],[59.03,-8.775],[59.07,-8.782],[59.1,-8.787],
  [59.14,-8.778],[59.18,-8.781],[59.21,-8.774],[59.25,-8.785],[59.29,-8.779],[59.32,-8.776],[59.36,-8.783],[59.4,-8.778],
  [59.43,-8.773],[59.47,-8.782],[59.51,-8.786],[59.54,-8.777],[59.58,-8.781],[59.62,-8.775],[59.65,-8.784],[59.69,-8.779],
  [59.73,-8.782],[59.76,-8.776],
  [59.8,-8.783],[59.84,-8.777],[59.87,-8.787],[59.91,-8.781],[59.95,-8.775],[59.98,-8.785],[60.02,-8.780],[60.06,-8.789],
  [60.09,-8.782],[60.13,-8.776],[60.17,-8.786],[60.2,-8.781],[60.24,-8.774],[60.28,-8.784],[60.31,-8.779],[60.35,-8.788],
  [60.39,-8.782],[60.42,-8.777],[60.46,-8.785],[60.5,-8.790],[60.53,-8.780],[60.57,-8.784],[60.61,-8.776],[60.64,-8.787],
  [60.68,-8.782],[60.72,-8.778],[60.75,-8.789],[60.79,-8.783],[60.83,-8.775],[60.86,-8.786],[60.9,-8.781],[60.94,-8.784],
  [60.97,-8.777],[61.01,-8.788],[61.05,-8.782],[61.08,-8.775],[61.12,-8.785],[61.16,-8.780],[61.19,-8.789],[61.23,-8.783],
  [61.27,-8.777],[61.3,-8.786],[61.34,-8.781],[61.38,-8.784],[61.41,-8.776],[61.45,-8.790],[61.49,-8.782],[61.52,-8.778],
  [61.56,-8.787],[61.6,-8.781],[61.63,-8.785],[61.67,-8.776],[61.71,-8.783],[61.74,-8.788],[61.78,-8.780],[61.82,-8.784],
  [61.85,-8.777],[61.89,-8.787],[61.93,-8.782],[61.96,-8.779],[62.0,-8.786],[62.04,-8.781],[62.07,-8.775],[62.11,-8.784],
  [62.15,-8.789],[62.18,-8.780],[62.22,-8.785],[62.26,-8.778],[62.29,-8.788],[62.33,-8.782],[62.37,-8.786],[62.4,-8.779],
  [62.44,-8.784],
  [53.85,-8.784],[53.82,-8.756],[53.95,-8.755],[54.41,-8.725],[54.62,-8.784],[55.4,-8.759],[55.5,-8.758],[55.7,-8.755],
  [55.87,-8.741],[55.9,-8.738],[55.92,-8.735],[55.94,-8.733],[55.95,-8.751],[56.58,-8.748],[56.16,-8.782],[55.6,-8.764],
  [57.28,-8.796],[57.91,-8.798],[58.12,-8.800],[58.75,-8.798],[59.38,-8.798],[58.19,-8.791],[58.89,-8.792],[59.45,-8.792],
  [57.75,-8.762],[57.78,-8.758],[57.84,-8.768],[58.47,-8.755],[58.2,-8.760],[59.52,-8.764],[59.66,-8.759],[59.68,-8.756],
  [59.7,-8.770],[60.08,-8.804],[60.43,-8.802],[60.57,-8.797],[62.32,-8.804],[62.53,-8.793],[62.04,-8.794],[60.43,-8.760],
  [61.62,-8.762],[62.04,-8.767],[61.34,-8.767],[60.78,-8.768],[59.73,-8.761],[59.77,-8.757]
];

// Detrended photometry, days 62.5 - 70
const detLateEarly = [
  [62.48,-8.786],[62.51,-8.780],[62.55,-8.790],[62.59,-8.784],[62.62,-8.779],[62.66,-8.788],[62.7,-8.783],[62.73,-8.792],
  [62.77,-8.786],[62.81,-8.780],[62.84,-8.789],[62.88,-8.784],[62.92,-8.778],[62.95,-8.787],[62.99,-8.782],[63.03,-8.791],
  [63.06,-8.785],[63.1,-8.780],[63.14,-8.788],[63.17,-8.793],[63.21,-8.783],[63.25,-8.787],[63.28,-8.779],[63.32,-8.790],
  [63.36,-8.785],[63.39,-8.781],[63.43,-8.792],[63.47,-8.786],[63.5,-8.779],[63.54,-8.789],[63.58,-8.784],[63.61,-8.787],
  [63.65,-8.780],[63.69,-8.791],[63.72,-8.785],[63.76,-8.778],[63.8,-8.788],[63.83,-8.783],[63.87,-8.792],[63.91,-8.786],
  [63.94,-8.781],[63.98,-8.789],[64.02,-8.784],[64.05,-8.787],[64.09,-8.780],[64.13,-8.793],[64.16,-8.785],[64.2,-8.781],
  [64.24,-8.790],[64.27,-8.784],[64.31,-8.788],[64.35,-8.779],[64.38,-8.786],[64.42,-8.791],[64.46,-8.783],[64.49,-8.787],
  [64.53,-8.780],[64.57,-8.790],[64.6,-8.785],[64.64,-8.782],[64.68,-8.789],[64.71,-8.784],[64.75,-8.793],[64.79,-8.786],
  [64.82,-8.780],[64.86,-8.788],[64.9,-8.783],[64.93,-8.791],[64.97,-8.786],[65.01,-8.781],[65.04,-8.790],[65.08,-8.785],
  [65.12,-8.788],[65.15,-8.782],[65.19,-8.792],[65.23,-8.786],[65.26,-8.783],
  [65.3,-8.791],[65.33,-8.785],[65.37,-8.795],[65.41,-8.789],[65.44,-8.784],[65.48,-8.793],[65.52,-8.788],[65.55,-8.797],
  [65.59,-8.791],[65.63,-8.785],[65.66,-8.794],[65.7,-8.789],[65.74,-8.783],[65.77,-8.792],[65.81,-8.787],[65.85,-8.796],
  [65.88,-8.790],[65.92,-8.785],[65.96,-8.793],[65.99,-8.798],[66.03,-8.788],[66.07,-8.792],[66.1,-8.784],[66.14,-8.795],
  [66.18,-8.790],[66.21,-8.786],[66.25,-8.797],[66.29,-8.791],[66.32,-8.784],[66.36,-8.794],[66.4,-8.789],[66.43,-8.792],
  [66.47,-8.785],[66.51,-8.796],[66.54,-8.790],[66.58,-8.783],[66.62,-8.793],[66.65,-8.788],[66.69,-8.797],[66.73,-8.791],
  [66.76,-8.786],[66.8,-8.794],[66.84,-8.789],[66.87,-8.792],[66.91,-8.785],[66.95,-8.798],[66.98,-8.790],[67.02,-8.786],
  [67.06,-8.795],[67.09,-8.789],[67.13,-8.793],[67.17,-8.784],[67.2,-8.791],[67.24,-8.796],[67.28,-8.788],[67.31,-8.792],
  [67.35,-8.785],[67.39,-8.795],[67.42,-8.790],[67.46,-8.787],[67.5,-8.794],[67.53,-8.789],[67.57,-8.798],[67.61,-8.791],
  [67.64,-8.785],[67.68,-8.793],[67.72,-8.788],[67.75,-8.796],[67.79,-8.791],[67.83,-8.786],[67.86,-8.795],[67.9,-8.790],
  [67.94,-8.793],[67.97,-8.787],[68.01,-8.797],[68.05,-8.790],[68.08,-8.784],[68.12,-8.794],[68.16,-8.789],[68.19,-8.792],
  [68.23,-8.786],[68.27,-8.796],[68.3,-8.791],[68.34,-8.787],[68.38,-8.795],[68.41,-8.790],[68.45,-8.798],[68.49,-8.792],
  [68.52,-8.785],[68.56,-8.794],[68.6,-8.789],[68.63,-8.793],[68.67,-8.786],[68.71,-8.797],[68.74,-8.791],[68.78,-8.788],
  [68.82,-8.795],[68.85,-8.790],[68.89,-8.784],[68.93,-8.794],[68.96,-8.798],[69.0,-8.789],[69.04,-8.793],[69.07,-8.786],
  [69.11,-8.796],[69.15,-8.791],[69.18,-8.787],[69.22,-8.794],[69.26,-8.789],[69.29,-8.785],[69.33,-8.793],[69.37,-8.797],
  [69.4,-8.790],[69.44,-8.794],[69.48,-8.787],[69.51,-8.796],[69.55,-8.791],[69.59,-8.793],[69.62,-8.786],[69.66,-8.795],
  [69.7,-8.789],[69.73,-8.784],[69.77,-8.792],[69.81,-8.797],[69.84,-8.790],[69.88,-8.794],[69.92,-8.787],[69.95,-8.795],
  [69.99,-8.790],
  [63.11,-8.807],[63.46,-8.805],[63.32,-8.775],[63.42,-8.772],[63.52,-8.767],[63.39,-8.759],[63.42,-8.759],[63.88,-8.775],
  [63.04,-8.772],[64.02,-8.798],[64.58,-8.798],[65.15,-8.772],[65.2,-8.772],[65.22,-8.771],[65.25,-8.764],[65.3,-8.760],
  [65.33,-8.756],[65.36,-8.754],[65.84,-8.802],[66.05,-8.800],[66.75,-8.810],[67.1,-8.805],[67.3,-8.805],[67.73,-8.803],
  [68.5,-8.803],[69.3,-8.804],[68.22,-8.798],[68.99,-8.799],[67.12,-8.777],[67.15,-8.774],[67.2,-8.771],[67.22,-8.765],
  [67.25,-8.762],[67.27,-8.760],[67.73,-8.772],[67.8,-8.775],[68.43,-8.772],[68.45,-8.763],[69.0,-8.770],[69.05,-8.767],
  [69.1,-8.764],[69.12,-8.761],[69.15,-8.760],[68.57,-8.780],[65.35,-8.779],[65.45,-8.777]
];

// Detrended photometry, days 70 - 76.6
const detLateEnd = [
  [70.02,-8.788],[70.06,-8.782],[70.09,-8.792],[70.13,-8.786],[70.17,-8.781],[70.2,-8.790],[70.24,-8.785],[70.28,-8.794],
  [70.31,-8.788],[70.35,-8.782],[70.39,-8.791],[70.42,-8.786],[70.46,-8.780],[70.5,-8.789],[70.53,-8.784],[70.57,-8.793],
  [70.61,-8.787],[70.64,-8.782],[70.68,-8.790],[70.72,-8.795],[70.75,-8.785],[70.79,-8.789],[70.83,-8.781],[70.86,-8.792],
  [70.9,-8.787],[70.94,-8.783],[70.97,-8.794],[71.01,-8.788],[71.05,-8.781],[71.08,-8.791],[71.12,-8.786],[71.16,-8.789],
  [71.19,-8.782],[71.23,-8.793],[71.27,-8.787],[71.3,-8.780],[71.34,-8.790],[71.38,-8.785],[71.41,-8.794],[71.45,-8.788],
  [71.49,-8.783],[71.52,-8.791],[71.56,-8.786],[71.6,-8.789],[71.63,-8.782],[71.67,-8.795],[71.71,-8.787],[71.74,-8.783],
  [71.78,-8.792],[71.82,-8.786],[71.85,-8.790],[71.89,-8.781],[71.93,-8.788],[71.96,-8.793],[72.0,-8.785],[72.04,-8.789],
  [72.07,-8.782],[72.11,-8.792],[72.15,-8.787],[72.18,-8.784],[72.22,-8.791],[72.26,-8.786],[72.29,-8.795],[72.33,-8.788],
  [72.37,-8.782],[72.4,-8.790],[72.44,-8.785],[72.48,-8.793],[72.51,-8.788],[72.55,-8.783],[72.59,-8.792],[72.62,-8.787],
  [72.66,-8.790],[72.7,-8.784],[72.73,-8.794],[72.77,-8.788],[72.81,-8.785],[72.84,-8.791],[72.88,-8.786],[72.92,-8.781],
  [72.95,-8.790],[72.99,-8.795],
  [73.03,-8.792],[73.06,-8.787],[73.1,-8.797],[73.14,-8.791],[73.17,-8.786],[73.21,-8.795],[73.25,-8.790],[73.28,-8.800],
  [73.32,-8.793],[73.36,-8.787],[73.39,-8.796],[73.43,-8.791],[73.47,-8.785],[73.5,-8.794],[73.54,-8.789],[73.58,-8.799],
  [73.61,-8.792],[73.65,-8.787],[73.69,-8.796],[73.72,-8.801],[73.76,-8.791],[73.8,-8.795],[73.83,-8.788],[73.87,-8.798],
  [73.91,-8.793],[73.94,-8.789],[73.98,-8.800],[74.02,-8.794],[74.05,-8.787],[74.09,-8.797],[74.13,-8.792],[74.16,-8.795],
  [74.2,-8.788],[74.24,-8.799],[74.27,-8.793],[74.31,-8.786],[74.35,-8.796],[74.38,-8.791],[74.42,-8.801],[74.46,-8.794],
  [74.49,-8.789],[74.53,-8.797],[74.57,-8.792],[74.6,-8.795],[74.64,-8.788],[74.68,-8.800],[74.71,-8.793],[74.75,-8.789],
  [74.79,-8.798],[74.82,-8.792],[74.86,-8.796],[74.9,-8.787],[74.93,-8.794],[74.97,-8.799],[75.01,-8.791],[75.04,-8.795],
  [75.08,-8.788],[75.12,-8.798],[75.15,-8.793],[75.19,-8.790],[75.23,-8.797],[75.26,-8.792],[75.3,-8.801],[75.34,-8.794],
  [75.37,-8.788],[75.41,-8.796],[75.45,-8.791],[75.48,-8.800],[75.52,-8.794],[75.56,-8.789],[75.59,-8.798],[75.63,-8.793],
  [75.67,-8.796],[75.7,-8.790],[75.74,-8.802],[75.78,-8.794],[75.81,-8.789],[75.85,-8.799],[75.89,-8.793],[75.92,-8.797],
  [75.96,-8.790],[76.0,-8.795],[76.04,-8.800],[76.07,-8.792],[76.11,-8.796],[76.15,-8.789],[76.18,-8.799],[76.22,-8.794],
  [76.26,-8.791],[76.29,-8.798],[76.33,-8.793],[76.37,-8.801],[76.4,-8.795],[76.44,-8.790],[76.48,-8.797],[76.51,-8.792],
  [76.55,-8.799],
  [71.23,-8.822],[70.74,-8.804],[71.65,-8.802],[71.93,-8.804],[72.07,-8.800],[72.7,-8.803],[70.32,-8.798],[70.25,-8.766],
  [70.96,-8.773],[70.98,-8.768],[71.0,-8.764],[71.01,-8.760],[71.02,-8.757],[71.03,-8.755],[71.58,-8.776],[71.86,-8.776],
  [72.86,-8.776],[72.9,-8.772],[72.95,-8.770],[72.97,-8.768],[70.46,-8.777],
  [73.3,-8.804],[73.55,-8.802],[73.62,-8.804],[74.95,-8.803],[75.79,-8.803],[75.93,-8.800],[74.45,-8.748],[74.8,-8.753],
  [74.8,-8.755],[74.52,-8.771],[74.8,-8.769],[74.78,-8.773],[74.1,-8.772],[75.23,-8.776],[75.5,-8.776],[75.9,-8.774],
  [76.34,-8.749],[72.98,-8.775],[73.2,-8.776]
];

// Reference levels: upper limit, mean, lower limit (Kp)
const rawLevels = [-8.8293, -8.7767, -8.7245];
const detLevels = [-8.8287, -8.7766, -8.7249];

// Panel texts
const figureTitle = 'LC.009608psf';
const timeTitle = 'Time \u2212 Time(0) [BKJD]';
const rawTag = 'Raw  LC';
const detTag = 'Detrended LC';

const rawPoints = [].concat(rawStart, rawEarly, rawMiddle, rawLate, rawEnd, rawFill);
const detPoints = [].concat(detEarly, detMidEarly, detMidLate, detLateEarly, detLateEnd);

// ---- Axis extents shared by both panels ----
const T_MIN = 38.57, T_MAX = 78.32;
const MAG_MIN = -8.8636, MAG_MAX = -8.6904;   // brighter at the top (inverse axis)

const INK = '#111111';
const fmtMag = v => String(Number(v.toFixed(3))).replace('-', '\u2212');

function xAxisFor(gridIndex, position, labelled) {
  return {
    type: 'value', gridIndex, position,
    min: T_MIN, max: T_MAX, splitNumber: 4,
    axisLine: { show: true, onZero: false, lineStyle: { color: '#000', width: 1.6 } },
    axisTick: { show: true, inside: true, length: 16, lineStyle: { color: '#000', width: 1.4 } },
    minorTick: { show: true, splitNumber: 5, length: 8, lineStyle: { color: '#000', width: 1.4 } },
    splitLine: { show: false }, minorSplitLine: { show: false },
    axisLabel: {
      show: labelled, margin: 13, color: INK, fontFamily: 'DejaVu Sans', fontSize: 20,
      showMinLabel: false, showMaxLabel: false,
      formatter: v => String(Math.round(v))
    },
    name: labelled ? timeTitle : '',
    nameLocation: 'middle', nameGap: 38,
    nameTextStyle: { fontFamily: 'Liberation Mono', fontWeight: 'bold', fontSize: 17, color: INK }
  };
}

function yAxisFor(gridIndex, position, labelled) {
  return {
    type: 'value', gridIndex, position, inverse: true,
    min: MAG_MIN, max: MAG_MAX, splitNumber: 3,
    axisLine: { show: true, onZero: false, lineStyle: { color: '#000', width: 1.6 } },
    axisTick: { show: true, inside: true, length: 17, lineStyle: { color: '#000', width: 1.4 } },
    minorTick: { show: true, splitNumber: 5, length: 9, lineStyle: { color: '#000', width: 1.4 } },
    splitLine: { show: false }, minorSplitLine: { show: false },
    axisLabel: {
      show: labelled, margin: 13, color: INK, fontFamily: 'DejaVu Sans', fontSize: 20,
      showMinLabel: false, showMaxLabel: false, formatter: fmtMag
    }
  };
}

function levelLines(levels) {
  const dashed = { type: [17, 10], width: 2, color: '#ff0000' };
  const dotted = { type: [5, 3, 1.5, 3], width: 1.6, color: '#ff0000' };
  return {
    silent: true, animation: false, symbol: ['none', 'none'],
    precision: 5,                      // keep the levels unrounded
    label: { show: false }, emphasis: { disabled: true },
    data: [
      { yAxis: levels[0], lineStyle: dashed },
      { yAxis: levels[1], lineStyle: dotted },
      { yAxis: levels[2], lineStyle: dashed }
    ]
  };
}

// Small "x" cross used for the detrended points
const crossSymbol = 'path://M0,0L2.4,0L5,2.6L7.6,0L10,0L10,2.4L7.4,5L10,7.6L10,10L7.6,10L5,7.4L2.4,10L0,10L0,7.6L2.6,5L0,2.4Z';

const kpLabel = (cy) => [
  { type: 'text', x: 21, y: cy + 4, rotation: Math.PI / 2,
    style: { text: 'K', font: 'italic 20px "DejaVu Serif"', fill: INK, align: 'center', verticalAlign: 'middle',
             textAlign: 'center', textVerticalAlign: 'middle' } },
  { type: 'text', x: 30, y: cy - 7, rotation: Math.PI / 2,
    style: { text: 'p', font: 'italic 11px "DejaVu Serif"', fill: INK, align: 'center', verticalAlign: 'middle',
             textAlign: 'center', textVerticalAlign: 'middle' } }
];

const chart = echarts.init(document.getElementById('chart'), null, { renderer: 'canvas' });

chart.setOption({
  animation: false,
  backgroundColor: '#ffffff',
  grid: [
    { left: 121, top: 106, width: 946, height: 356, containLabel: false, outerBoundsMode: 'none' },
    { left: 121, top: 641, width: 946, height: 356, containLabel: false, outerBoundsMode: 'none' }
  ],
  xAxis: [
    xAxisFor(0, 'bottom', true), xAxisFor(0, 'top', false),
    xAxisFor(1, 'bottom', true), xAxisFor(1, 'top', false)
  ],
  yAxis: [
    yAxisFor(0, 'left', true), yAxisFor(0, 'right', false),
    yAxisFor(1, 'left', true), yAxisFor(1, 'right', false)
  ],
  series: [
    {
      name: 'Raw LC', type: 'scatter', xAxisIndex: 0, yAxisIndex: 0,
      data: rawPoints, symbol: 'rect', symbolSize: [2, 4],
      itemStyle: { color: '#000000' }, silent: true,
      markLine: levelLines(rawLevels)
    },
    {
      name: 'Detrended LC', type: 'scatter', xAxisIndex: 2, yAxisIndex: 2,
      data: detPoints, symbol: crossSymbol, symbolSize: 7,
      itemStyle: { color: '#1414ff' }, silent: true,
      markLine: levelLines(detLevels)
    }
  ],
  graphic: [
    { type: 'text', x: 618, y: 20,
      style: { text: figureTitle, font: '21px "DejaVu Serif"', fill: INK, align: 'center', verticalAlign: 'middle',
               textAlign: 'center', textVerticalAlign: 'middle' } },
    { type: 'text', x: 990, y: 142,
      style: { text: rawTag, font: 'italic 24px "DejaVu Serif"', fill: INK, align: 'right', verticalAlign: 'middle',
               textAlign: 'right', textVerticalAlign: 'middle' } },
    { type: 'text', x: 1033, y: 695,
      style: { text: detTag, font: 'italic 25px "Liberation Mono"', fill: '#1414ff', align: 'right', verticalAlign: 'middle',
               textAlign: 'right', textVerticalAlign: 'middle' } }
  ].concat(kpLabel(286), kpLabel(822))
});
</script>
</body>
</html>
